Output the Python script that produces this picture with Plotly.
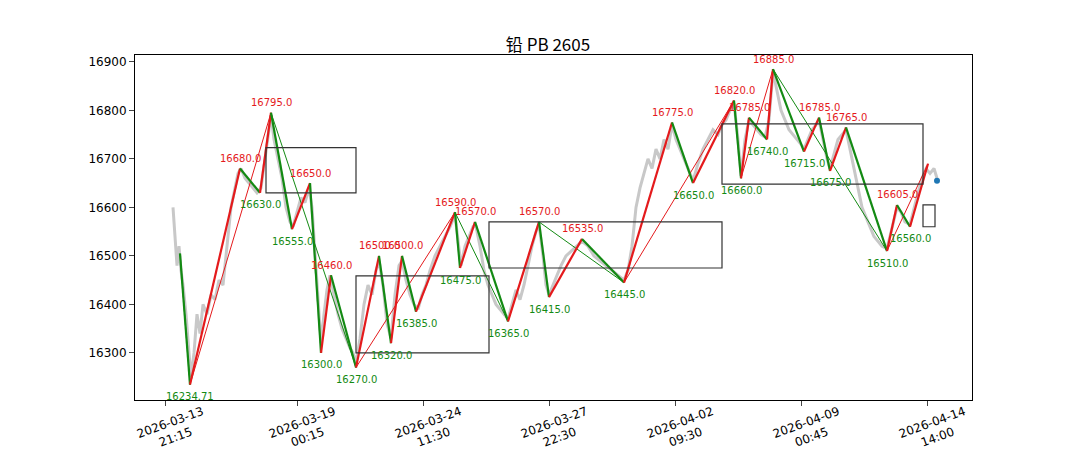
import plotly.graph_objects as go

gray_points = [(173,16600),(175,16540),(177,16480),(179,16520),(181,16470),(183,16440),(186,16380),(189,16300),(191,16250),(194,16300),(197,16380),(200,16340),(203,16400),(207,16380),(211,16420),(215,16410),(219,16450),(223,16440),(227,16520),(231,16600),(235,16640),(238,16670),(241,16680),(245,16660),(249,16650),(253,16640),(257,16630),(261,16640),(265,16700),(269,16760),(271,16790),(274,16740),(278,16700),(282,16660),(286,16600),(290,16570),(293,16560),(297,16590),(301,16620),(305,16610),(309,16640),(312,16600),(315,16500),(318,16400),(321,16320),(324,16380),(327,16430),(330,16460),(334,16420),(338,16380),(342,16350),(346,16330),(350,16310),(353,16300),(356,16280),(360,16330),(364,16400),(368,16440),(372,16420),(376,16470),(379,16490),(383,16440),(387,16360),(391,16330),(395,16420),(399,16480),(402,16490),(406,16450),(410,16420),(414,16400),(418,16390),(422,16420),(426,16440),(430,16470),(435,16500),(440,16520),(445,16540),(450,16560),(455,16585),(458,16530),(461,16480),(465,16520),(469,16540),(473,16560),(476,16560),(480,16520),(484,16470),(488,16440),(492,16420),(496,16400),(500,16390),(504,16380),(508,16370),(512,16400),(516,16430),(520,16410),(524,16440),(528,16480),(532,16520),(536,16550),(539,16565),(543,16500),(546,16440),(549,16420),(553,16440),(557,16460),(561,16480),(566,16500),(571,16510),(576,16520),(582,16530),(588,16520),(594,16500),(600,16490),(606,16480),(612,16470),(618,16460),(624,16450),(628,16470),(632,16520),(636,16600),(640,16640),(644,16670),(648,16700),(652,16680),(656,16720),(660,16700),(664,16740),(668,16720),(672,16770),(676,16740),(680,16720),(684,16700),(688,16680),(693,16655),(698,16690),(703,16720),(708,16740),(713,16760),(718,16750),(722,16770),(726,16780),(730,16800),(734,16815),(738,16740),(741,16665),(745,16740),(749,16780),(753,16770),(757,16760),(761,16750),(765,16745),(769,16780),(773,16880),(777,16840),(781,16800),(785,16780),(789,16760),(793,16750),(797,16740),(801,16730),(804,16720),(808,16740),(812,16760),(816,16770),(819,16780),(823,16740),(827,16700),(830,16680),(834,16710),(838,16740),(842,16750),(846,16760),(850,16720),(854,16680),(858,16640),(862,16600),(866,16580),(870,16560),(874,16540),(878,16530),(882,16520),(887,16515),(891,16550),(894,16580),(897,16600),(901,16590),(905,16570),(910,16565),(914,16600),(918,16630),(922,16660),(926,16680),(930,16670),(934,16680),(937,16660)]

bi_x = [180,190,240,260,271,292,310,321,331,356,379,391,402,416,455,460,475,508,539,549,582,624,672,693,734,741,749,767,773,804,819,830,846,887,897,910]
bi_y = [16505,16234.71,16680,16630,16795,16555,16650,16300,16460,16270,16500,16320,16500,16385,16590,16475,16570,16365,16570,16415,16535,16445,16775,16650,16820,16660,16785,16740,16885,16715,16785,16675,16765,16510,16605,16560]
bi_end_x = 928
bi_end_y = 16690

seg_x = [180,190,271,356,455,508,539,624,734,741,773,887,928]
seg_y = [16505,16234.71,16795,16270,16590,16365,16570,16445,16820,16660,16885,16510,16690]

zones = [(266,356,16630,16723),(356,489,16300,16459),(489,722,16475,16570),(722,923,16648,16772),(923,935,16560,16605)]
last_x, last_y = 937, 16655

tick_pos = [165,297,423,549,675,801,927]
tick_text = ["2026-03-13<br>21:15","2026-03-19<br>00:15","2026-03-24<br>11:30","2026-03-27<br>22:30","2026-04-02<br>09:30","2026-04-09<br>00:45","2026-04-14<br>14:00"]

fig = go.Figure()
gx, gy = zip(*gray_points)
fig.add_trace(go.Scatter(x=gx, y=gy, mode="lines", line=dict(color="#c8c8c8", width=3), hoverinfo="skip"))

def add_zig(xs, ys, w):
    for i in range(len(xs)-1):
        up = ys[i+1] > ys[i]
        fig.add_trace(go.Scatter(x=[xs[i], xs[i+1]], y=[ys[i], ys[i+1]], mode="lines",
                                 line=dict(color="#e41a1c" if up else "#138a13", width=w), hoverinfo="skip"))

add_zig(seg_x, seg_y, 1.0)
add_zig(bi_x + [bi_end_x], bi_y + [bi_end_y], 2.2)

for i,(x,y) in enumerate(zip(bi_x, bi_y)):
    if i == 0:
        continue
    nxt = bi_y[i+1] if i+1 < len(bi_y) else bi_end_y
    high = y > nxt
    fig.add_annotation(x=x, y=y, text=f"{y:.2f}" if y != int(y) else f"{y:.1f}", showarrow=False,
                       yshift=10 if high else -12, font=dict(size=10, color="#e41a1c" if high else "#138a13"))

for t, lab in zip(tick_pos, tick_text):
    fig.add_annotation(x=t, y=0, xref="x", yref="paper", yanchor="top", yshift=-1, xshift=8,
                       text=lab, textangle=-20, showarrow=False, font=dict(size=12, color="black"))

for x0,x1,y0,y1 in zones:
    fig.add_shape(type="rect", x0=x0, x1=x1, y0=y0, y1=y1, line=dict(color="#333", width=1.2))

fig.add_trace(go.Scatter(x=[last_x], y=[last_y], mode="markers", marker=dict(color="#1f77b4", size=6)))

fig.update_layout(width=1080, height=450, showlegend=False, plot_bgcolor="white", paper_bgcolor="white",
                  margin=dict(l=127, r=116, t=47, b=58, autoexpand=False),
                  title=dict(text="铅 PB 2605", x=0.5, xanchor="center", y=0.93, font=dict(family="Noto Sans CJK SC", size=17, color="black")),
                  font=dict(family="DejaVu Sans", size=12, color="black"))
fig.update_xaxes(range=[135,972], tickvals=tick_pos, showticklabels=False, showgrid=False, automargin=False,
                 showline=True, mirror=True, linecolor="black", ticks="outside", zeroline=False)
fig.update_yaxes(range=[16203,16914], tickvals=[16300,16400,16500,16600,16700,16800,16900], tickformat="d", showgrid=False, automargin=False,
                 showline=True, mirror=True, linecolor="black", ticks="outside", zeroline=False)
fig.write_html("out.html")
